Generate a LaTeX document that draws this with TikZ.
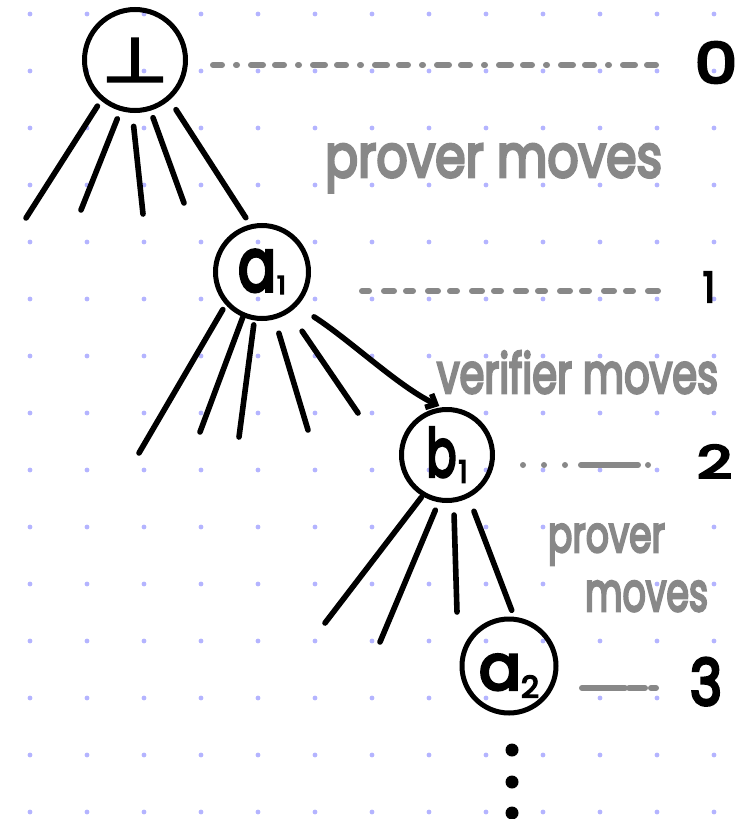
\documentclass[tikz,border=0pt]{standalone}
\usepackage{fontspec}
\usepackage{graphicx}
\setmainfont{Poppins}[FakeBold=5]
\newfontfamily\symfont{DejaVu Sans}[FakeBold=4]
\usetikzlibrary{arrows.meta}

\definecolor{griddot}{RGB}{180,180,255}
\definecolor{pencil}{RGB}{136,136,136}

% handwritten-size glyphs: width, height, text
\newcommand{\hw}[3]{\resizebox{#1pt}{#2pt}{#3}}

\begin{document}
\begin{tikzpicture}[x=1pt,y=-1pt,
  ink/.style={line width=5.6pt, line cap=round, line join=round},
  level/.style={draw=pencil, line width=6pt, line cap=round},
  movenode/.style={circle, draw, line width=5pt, inner sep=0pt, minimum size=#1},
  tag/.style={anchor=base west, inner sep=0pt, outer sep=0pt},
  note/.style={tag, text=pencil}]

% page and dotted paper
\fill[white] (0,0) rectangle (755,819);
\useasboundingbox (0,0) rectangle (755,819);
\foreach \i in {0,...,12}
  \foreach \j in {0,...,14}
    \fill[griddot] ({30+57*\i},{14+57*\j}) circle (2.4pt);

% game tree states
\node[movenode=101pt] (root) at (135,60) {{\symfont\hw{66}{43}{⊥}}\hspace{8pt}};
\node[movenode=93pt]  (a1)   at (262,272) {\hw{38}{41}{a}\hspace{1pt}\raisebox{-3pt}{\hw{9}{18}{1}}};
\node[movenode=91pt]  (b1)   at (447,455) {\hw{30}{49}{b}\hspace{2pt}\raisebox{-6pt}{\hw{9}{22}{1}}};
\node[movenode=94pt]  (a2)   at (509,666) {\rule{0pt}{55pt}\hw{42}{35}{a}\raisebox{-8pt}{\hw{18}{22}{2}}};

% loose ends of the branches
\coordinate (r1) at (26,218);
\coordinate (r2) at (81,210);
\coordinate (r3) at (143,214);
\coordinate (r4) at (184,203);
\coordinate (p1) at (139,453);
\coordinate (p2) at (200,432);
\coordinate (p3) at (239,437);
\coordinate (p4) at (308,430);
\coordinate (p5) at (358,413);
\coordinate (q1) at (325,623);
\coordinate (q2) at (380,642);
\coordinate (q3) at (457,612);

% branches out of the root
\draw[ink, shorten <=6.5pt]  (root.230) -- (r1);
\draw[ink, shorten <=8.5pt]  (root.254) -- (r2);
\draw[ink, shorten <=13.5pt] (root.267) -- (r3);
\draw[ink, shorten <=7.5pt]  (root.287) -- (r4);
\draw[ink, shorten <=11.5pt, shorten >=8pt] (root.311) -- (a1.104);

% branches out of a1
\draw[ink, shorten <=5.5pt]  (a1.222) -- (p1);
\draw[ink, shorten <=0.5pt]  (a1.247) -- (p2);
\draw[ink, shorten <=4.5pt]  (a1.261) -- (p3);
\draw[ink, shorten <=14.5pt] (a1.285) -- (p4);
\draw[ink, shorten <=22.5pt] (a1.304) -- (p5);
\draw[ink, shorten <=20pt, shorten >=3pt, -{Straight Barb[length=8pt,width=15pt]}]
  (a1.316) .. controls (350,340) and (398,386) .. (b1.96);

% branches out of b1
\draw[ink, shorten <=1.5pt]  (b1.239) -- (q1);
\draw[ink, shorten <=8.5pt]  (b1.260) -- (q2);
\draw[ink, shorten <=12.5pt] (b1.278) -- (q3);
\draw[ink, shorten <=14.5pt, shorten >=7pt] (b1.297) -- (a2.84);

% the tree continues below a2
\fill (512,750) circle (6.5pt);
\fill (512,782) circle (6.5pt);
\fill (512,813) circle (6.5pt);

% depth numbers
\node[tag] (l0) at (695,83)  {\hw{42}{41}{0}};
\node[tag] (l1) at (703,302) {\hw{12}{30}{1}};
\node[tag] (l2) at (697,478) {\hw{35}{33}{2}};
\node[tag] (l3) at (690,705) {\hw{32}{47}{3}};

% dashed guides from each state to its depth
\coordinate (s0) at (213,65);
\coordinate (s1) at (362,291);
\coordinate (s2) at (523,465);
\coordinate (s3) at (582,688);
\draw[level, dash pattern=on 9pt off 14pt on 1pt off 14pt on 12pt off 12pt, shorten >=37pt] (s0) -- (s0 -| l0.west);
\draw[level, dash pattern=on 7pt off 15pt on 10pt off 12pt, shorten >=35pt] (s1) -- (s1 -| l1.west);
\draw[level, dash pattern=on 0pt off 21pt on 0pt off 21pt on 0pt off 16pt on 57pt off 10pt on 0pt off 100pt, shorten >=45pt] (s2) -- (s2 -| l2.west);
\draw[level, dash pattern=on 43pt off 4pt on 16pt off 6pt on 5pt off 100pt, shorten >=32pt] (s3) -- (s3 -| l3.west);

% whose turn it is between levels
\node[note] (m0)  at (325,177) {\hw{337}{33}{prover moves}};
\node[note] (m1)  at (437,393) {\hw{281}{42}{verifier moves}};
\node[note] (m2a) at (548,552) {\hw{117}{28}{prover}};
\node[note] (m2b) at (585,611) {\hw{123}{30}{moves}};
\end{tikzpicture}
\end{document}
